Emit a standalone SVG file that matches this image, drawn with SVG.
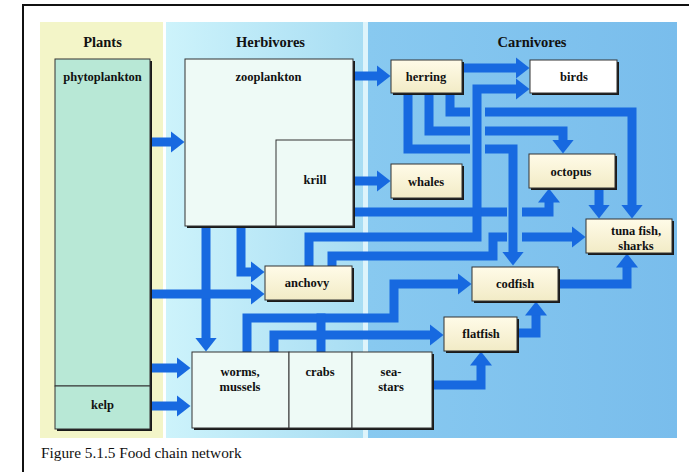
<svg xmlns="http://www.w3.org/2000/svg" width="689" height="472" viewBox="0 0 689 472">
<defs>
<linearGradient id="herbG" x1="0" x2="1" y1="0" y2="0"><stop offset="0" stop-color="#cdf3fb"/><stop offset="1" stop-color="#a8ddf3"/></linearGradient>
<linearGradient id="carnG" x1="0" x2="1" y1="0" y2="0"><stop offset="0" stop-color="#88c9f0"/><stop offset="1" stop-color="#79bdec"/></linearGradient>
<linearGradient id="creamG" x1="0" x2="0" y1="0" y2="1"><stop offset="0" stop-color="#fffbe8"/><stop offset="1" stop-color="#f2ebc6"/></linearGradient>
<marker id="ah" markerUnits="userSpaceOnUse" markerWidth="14" markerHeight="22" viewBox="0 0 14 22" refX="0.5" refY="11" orient="auto"><path d="M0,0 L14,11 L0,22 Z" fill="#1769e0"/></marker>
<style>
.hdr{font-family:"Liberation Serif","Times New Roman",serif;font-weight:bold;font-size:14.5px;text-anchor:middle;fill:#111}
.lbl{font-family:"Liberation Serif","Times New Roman",serif;font-weight:bold;font-size:12.5px;text-anchor:middle;fill:#111}
.cap{font-family:"Liberation Serif","Times New Roman",serif;font-size:15.3px;fill:#111}
.sh{fill:#1a1a1a}
.box{stroke:#333;stroke-width:1}
.cream{fill:url(#creamG)}
.pale{fill:#eefaf6}
.mint{fill:#b8e8d6}
.c{fill:none;stroke:#1769e0;stroke-width:9;stroke-linejoin:miter}
.ah{marker-end:url(#ah)}
</style>
</defs>
<rect width="689" height="472" fill="#ffffff"/>
<path d="M23,472 V5 H689" fill="none" stroke="#111" stroke-width="2"/>
<g id="zones">
<rect x="40" y="22" width="123" height="416" fill="#f3f5c8"/>
<rect x="166" y="22" width="197" height="416" fill="url(#herbG)"/>
<rect x="363" y="22" width="5" height="416" fill="#def4fb"/>
<rect x="368" y="22" width="309" height="416" fill="url(#carnG)"/>
<text class="hdr" x="102.5" y="47">Plants</text>
<text class="hdr" x="270.5" y="47">Herbivores</text>
<text class="hdr" x="532" y="47">Carnivores</text>
</g>
<g id="connectors">
<path class="c ah" d="M150,142 H171"/>
<path class="c ah" d="M353,76 H377"/>
<path class="c ah" d="M353,181 H377"/>
<path class="c ah" d="M462,68 H516"/>
<path class="c" d="M353,212 H507"/>
<path class="c ah" d="M522,212 H549 V202"/>
<path class="c ah" d="M309,266 V237 H477 V89 H516"/>
<path class="c" d="M332,266 V256 H493 V237 H507"/>
<path class="c ah" d="M522,237 H572"/>
<path class="c" d="M408,95 V149 H470"/>
<path class="c ah" d="M485,149 H513 V252"/>
<path class="c" d="M429,95 V131 H470"/>
<path class="c ah" d="M485,131 H563 V140"/>
<path class="c" d="M450,95 V112 H470"/>
<path class="c ah" d="M485,112 H632 V205"/>
<path class="c ah" d="M599,188 V205"/>
<path class="c ah" d="M241,226 V272 H251"/>
<path class="c ah" d="M206,226 V338"/>
<path class="c ah" d="M150,294 H251"/>
<path class="c ah" d="M150,368 H177"/>
<path class="c ah" d="M150,406 H177"/>
<path class="c ah" d="M247,352 V318 H394 V284 H458"/>
<path class="c" d="M321,352 V313.5"/>
<path class="c ah" d="M274,352 V335 H430"/>
<path class="c ah" d="M432,385 H481 V365"/>
<path class="c ah" d="M517,333 H536 V315"/>
<path class="c ah" d="M558,284 H627 V267"/>
</g>
<g id="phytoplankton"><rect class="sh" x="57" y="61" width="95" height="327"/><rect class="box mint" x="55" y="59" width="95" height="327"/><text class="lbl" x="102.5" y="81">phytoplankton</text></g>
<g id="kelp"><rect class="sh" x="57" y="388" width="95" height="43"/><rect class="box mint" x="55" y="386" width="95" height="43"/><text class="lbl" x="102.5" y="409">kelp</text></g>
<g id="zooplankton"><rect class="sh" x="187" y="61" width="168" height="167"/><rect class="box pale" x="185" y="59" width="168" height="167"/><text class="lbl" x="268.5" y="81">zooplankton</text></g>
<g id="krill"><rect class="box pale" x="276" y="140" width="77" height="86"/><text class="lbl" x="315" y="184">krill</text></g>
<g id="benthos-shadow"><rect class="sh" x="194" y="354" width="240" height="76"/></g>
<g id="worms"><rect class="box pale" x="192" y="352" width="97" height="76"/><text class="lbl" x="240" y="376">worms,</text><text class="lbl" x="240" y="391">mussels</text></g>
<g id="crabs"><rect class="box pale" x="289" y="352" width="63" height="76"/><text class="lbl" x="320" y="376">crabs</text></g>
<g id="seastars"><rect class="box pale" x="352" y="352" width="80" height="76"/><text class="lbl" x="391" y="376">sea-</text><text class="lbl" x="391" y="391">stars</text></g>
<g id="herring"><rect class="sh" x="393" y="62" width="71" height="33"/><rect class="box cream" x="391" y="60" width="71" height="33"/><text class="lbl" x="426" y="81">herring</text></g>
<g id="birds"><rect class="sh" x="532" y="62" width="87" height="33"/><rect class="box" fill="#ffffff" x="530" y="60" width="87" height="33"/><text class="lbl" x="574" y="81">birds</text></g>
<g id="whales"><rect class="sh" x="393" y="166" width="71" height="34"/><rect class="box cream" x="391" y="164" width="71" height="34"/><text class="lbl" x="426" y="186">whales</text></g>
<g id="octopus"><rect class="sh" x="531" y="156" width="86" height="34"/><rect class="box cream" x="529" y="154" width="86" height="34"/><text class="lbl" x="571" y="176">octopus</text></g>
<g id="tuna"><rect class="sh" x="588" y="221" width="86" height="34"/><rect class="box cream" x="586" y="219" width="86" height="34"/><text class="lbl" x="636" y="235">tuna fish,</text><text class="lbl" x="636" y="250">sharks</text></g>
<g id="anchovy"><rect class="sh" x="267" y="268" width="87" height="34"/><rect class="box cream" x="265" y="266" width="87" height="34"/><text class="lbl" x="307" y="287">anchovy</text></g>
<g id="codfish"><rect class="sh" x="474" y="269" width="86" height="34"/><rect class="box cream" x="472" y="267" width="86" height="34"/><text class="lbl" x="515" y="288">codfish</text></g>
<g id="flatfish"><rect class="sh" x="446" y="319" width="73" height="34"/><rect class="box cream" x="444" y="317" width="73" height="34"/><text class="lbl" x="481" y="338">flatfish</text></g>
<text class="cap" x="41" y="458">Figure 5.1.5 Food chain network</text>
</svg>
